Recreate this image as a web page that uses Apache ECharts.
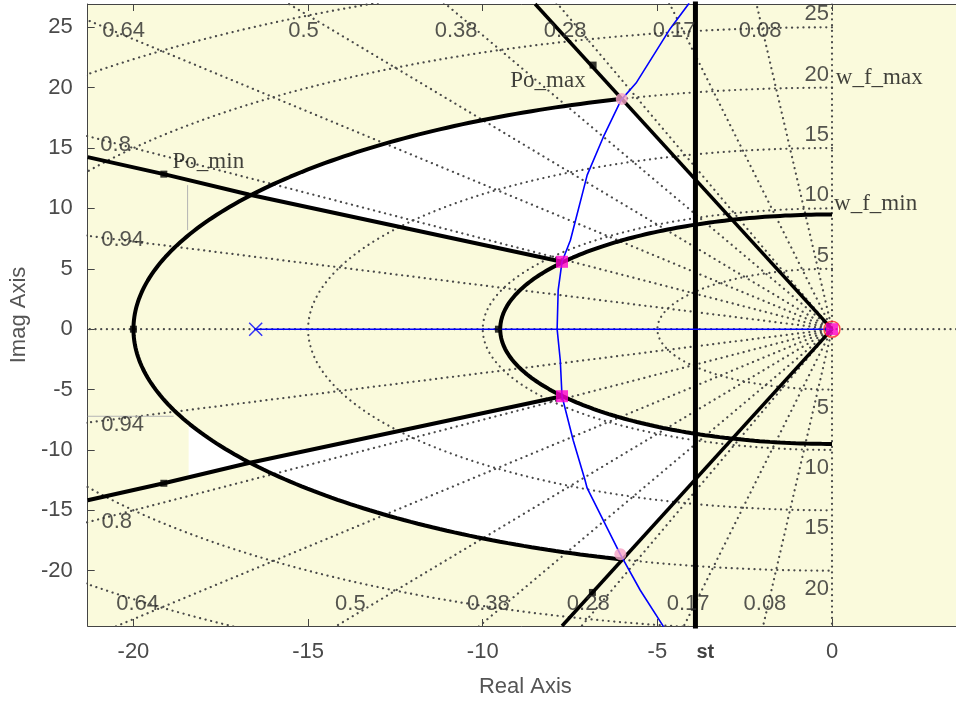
<!DOCTYPE html>
<html><head><meta charset="utf-8">
<script src="https://cdn.jsdelivr.net/npm/echarts@6/dist/echarts.min.js"></script>
<style>html,body{margin:0;padding:0;background:#fff}#c{width:956px;height:704px}</style>
</head><body><div id="c"></div>
<script>
// ---------- axes ----------
const xRange = [-21.31, 3.55];
const yRange = [-24.58, 26.93];
const xTicks = [-20, -15, -10, -5, 0];
const yTicks = [-20, -15, -10, -5, 0, 5, 10, 15, 20, 25];

// ---------- s-plane grid (sgrid) ----------
const zetaValues = [0.08, 0.17, 0.28, 0.38, 0.5, 0.64, 0.8, 0.94];
const wnValues = [5, 10, 15, 20, 25, 30];
const zetaLabels = [
  ["0.64", -20.28, 24.69], ["0.5", -15.13, 24.69], ["0.38", -10.76, 24.69],
  ["0.28", -7.64, 24.69], ["0.17", -4.52, 24.69], ["0.08", -2.06, 24.69],
  ["0.64", -19.88, -22.78], ["0.5", -13.79, -22.78], ["0.38", -9.84, -22.78],
  ["0.28", -6.98, -22.78], ["0.17", -4.12, -22.78], ["0.08", -1.92, -22.78],
  ["0.8", -20.51, 15.24], ["0.94", -20.31, 7.37], ["0.94", -20.31, -7.95], ["0.8", -20.48, -15.99]
];
const wnLabelsUpper = [5, 10, 15, 20, 25];
const wnLabelsLower = [5, 10, 15, 20];

// ---------- design constraints ----------
const wfMaxRadius = 20;
const wfMaxArc = [107.5, 252.5];
const wfMinRadius = 9.5;
const wfMinArc = [90, 270];
const poMaxUpper = [[0, 0], [-8.5, 26.93]];
const poMaxLower = [[0, 0], [-7.73, -24.58]];
const poMinUpper = [[-21.31, 14.25], [-19.13, 12.84], [-16.7, 11.15], [-7.73, 5.58]];
const poMinLower = [[-21.31, -14.17], [-19.13, -12.76], [-16.73, -11.1], [-7.73, -5.55]];
const stValue = -3.91;
const artifactEdgeX = -18.42;
const constraintLabels = [
  ["Po_min", -18.88, 13.84], ["Po_max", -9.21, 20.55],
  ["w_f_max", 0.11, 20.8], ["w_f_min", 0.06, 10.36]
];

// ---------- root locus ----------
const locusBranch = [
  [-4.09, 27.0], [-4.66, 24.77], [-5.61, 20.38], [-6.04, 18.97], [-6.55, 15.9],
  [-7.01, 12.76], [-7.12, 11.52], [-7.49, 7.37], [-7.73, 5.58], [-7.84, 3.23],
  [-7.87, 0], [-7.78, -2.57], [-7.73, -5.55], [-7.41, -9.2], [-7.07, -12.51],
  [-7.01, -13.17], [-6.06, -18.64], [-5.49, -21.62], [-4.81, -24.69]
];
const locusReal = [[-16.5, 0], [0, 0]];
const blueCross = [[-16.5, 0]];
const redPole = [[0, 0]];
const squarePoints = [[-7.73, 5.58], [-7.73, -5.55], [0, 0]];
const circlePoints = [[-6.02, 19.07], [-6.06, -18.64]];
const boundaryMarkers = [[-20, 0], [-9.55, 0], [-19.13, 12.84], [-19.13, -12.76], [-6.84, 21.87], [-6.86, -21.8]];

// ---------- geometry helpers ----------
const rad = d => d * Math.PI / 180;
const ang = p => { let a = Math.atan2(p[1], p[0]) * 180 / Math.PI; if (a < 0) a += 360; return a; };
function arc(r, a0, a1, n) {
  n = n || 120; const out = [];
  for (let i = 0; i <= n; i++) { const a = rad(a0 + (a1 - a0) * i / n); out.push([r * Math.cos(a), r * Math.sin(a)]); }
  return out;
}
const slopeU = poMaxUpper[1][1] / poMaxUpper[1][0];
const slopeL = poMaxLower[1][1] / poMaxLower[1][0];
const dY = Math.sqrt(wfMinRadius * wfMinRadius - stValue * stValue);

// white (admissible) regions
const Au = poMinUpper[2], Eu = poMinUpper[3];
const upperPoly = [].concat(
  arc(wfMaxRadius, ang(Au), wfMaxArc[0]),
  [[stValue, slopeU * stValue], [stValue, dY]],
  arc(wfMinRadius, ang([stValue, dY]), ang(Eu)),
  [Eu]
);
const Al = poMinLower[2], El = poMinLower[3];
const lowerPoly = [].concat(
  arc(wfMaxRadius, ang(Al), wfMaxArc[1]),
  [[stValue, slopeL * stValue], [stValue, -dY]],
  arc(wfMinRadius, ang([stValue, -dY]), ang(El)),
  [El]
);
const yc = -Math.sqrt(wfMaxRadius * wfMaxRadius - artifactEdgeX * artifactEdgeX);
const p1 = poMinLower[1], p2 = poMinLower[2];
const yLine = p1[1] + (artifactEdgeX - p1[0]) * (p2[1] - p1[1]) / (p2[0] - p1[0]);
const triPoly = [].concat(arc(wfMaxRadius, ang([artifactEdgeX, yc]), ang(Al), 40), [[artifactEdgeX, yLine]]);
const whitePolys = [upperPoly, lowerPoly, triPoly];

// ---------- series ----------
const series = [];
series.push({
  type: 'custom', coordinateSystem: 'cartesian2d', z: 1, silent: true,
  data: whitePolys.map((p, i) => [p[0][0], p[0][1], i]),
  encode: { x: 0, y: 1 },
  renderItem: (params, api) => ({
    type: 'polygon',
    shape: { points: whitePolys[params.dataIndex].map(p => api.coord(p)) },
    style: { fill: '#ffffff', stroke: null }
  })
});

const dotStyle = { color: '#4a4a4a', width: 2.2, type: [0.1, 5.6], cap: 'round' };
function dotted(data) {
  series.push({ type: 'line', data, showSymbol: false, silent: true, z: 2, lineStyle: dotStyle, animation: false });
}
zetaValues.forEach(z => {
  const s = Math.sqrt(1 - z * z), R = 80;
  dotted([[0, 0], [-z * R, s * R]]);
  dotted([[0, 0], [-z * R, -s * R]]);
});
dotted([[0, yRange[0] - 5], [0, yRange[1] + 5]]);
dotted([[xRange[0] - 5, 0], [xRange[1] + 5, 0]]);
wnValues.forEach(w => dotted(arc(w, 90, 270, 180)));

// artifact gray lines
const grayLine = { color: '#b4b4b4', width: 1 };
series.push({ type: 'line', data: [[artifactEdgeX - 0.03, 11.93], [artifactEdgeX - 0.03, 8.2]], showSymbol: false, silent: true, z: 2, lineStyle: grayLine });
series.push({ type: 'line', data: [[xRange[0], -7.21], [-18.85, -7.21]], showSymbol: false, silent: true, z: 2, lineStyle: grayLine });

function thick(data, w) {
  series.push({ type: 'line', data, showSymbol: false, silent: true, z: 3, lineStyle: { color: '#000', width: w || 4 }, animation: false });
}
thick(arc(wfMaxRadius, wfMaxArc[0], wfMaxArc[1], 200));
thick(arc(wfMinRadius, wfMinArc[0], wfMinArc[1], 200));
thick(poMaxUpper, 3.5);
thick(poMaxLower, 3.5);
thick(poMinUpper);
thick(poMinLower);
thick([[stValue, yRange[0] - 5], [stValue, yRange[1] + 5]], 5);

// root locus
series.push({ type: 'line', data: locusBranch, showSymbol: false, z: 4, lineStyle: { color: '#0000ff', width: 1.6 }, animation: false });
series.push({ type: 'line', data: locusReal, showSymbol: false, z: 4, lineStyle: { color: '#0000ff', width: 1.6 }, animation: false });

series.push({ type: 'scatter', data: boundaryMarkers, symbol: 'rect', symbolSize: [7, 7], z: 5, itemStyle: { color: '#000' } });
series.push({ type: 'scatter', data: blueCross, symbol: 'path://M0,0L10,10M10,0L0,10', symbolSize: 13, z: 5,
  itemStyle: { color: 'none', borderColor: '#0000ff', borderWidth: 1.5 } });
series.push({ type: 'scatter', data: redPole, symbol: 'circle', symbolSize: 16, z: 5,
  itemStyle: { color: 'none', borderColor: '#ff2020', borderWidth: 1.5 } });
series.push({ type: 'scatter', data: squarePoints, symbol: 'rect', symbolSize: 12, z: 6, itemStyle: { color: '#ff00cc' } });
series.push({ type: 'scatter', data: circlePoints, symbol: 'circle', symbolSize: 12, z: 6, itemStyle: { color: '#f6a3c6' } });

// text labels
function textSeries(items, label) {
  series.push({
    type: 'scatter', symbolSize: 1, itemStyle: { color: 'rgba(0,0,0,0)' }, z: 7, silent: true, clip: false,
    data: items.map(t => ({ name: t[0], value: [t[1], t[2]] })),
    label: Object.assign({ show: true, formatter: '{b}', position: 'inside' }, label)
  });
}
const gridFont = { color: '#2a2a2a', fontSize: 22, fontFamily: 'Liberation Sans, Arial, sans-serif', align: 'center', verticalAlign: 'middle' };
textSeries(zetaLabels, gridFont);
textSeries(wnLabelsUpper.map(w => [String(w), 0, w]), Object.assign({}, gridFont, { align: 'right', offset: [-3, -13] }));
textSeries(wnLabelsLower.map(w => [String(w), 0, -w]), Object.assign({}, gridFont, { align: 'right', offset: [-3, 18] }));
textSeries(constraintLabels, { color: '#111', fontSize: 23, fontFamily: 'Liberation Serif, Times New Roman, serif', align: 'left', verticalAlign: 'middle' });
textSeries([["st", stValue, yRange[0]]], { color: '#111', fontSize: 20, fontWeight: 'bold', fontFamily: 'Liberation Sans, Arial, sans-serif', align: 'left', verticalAlign: 'middle', offset: [1, 26] });

const axisFont = { color: '#4a4a4a', fontSize: 22, fontFamily: 'Liberation Sans, Arial, sans-serif' };
const option = {
  animation: false,
  backgroundColor: '#ffffff',
  grid: { left: 87, top: 4, right: 0, height: 622, show: true, backgroundColor: '#fafadc', borderWidth: 0 },
  xAxis: [{
    type: 'value', min: xRange[0], max: xRange[1], position: 'bottom',
    name: 'Real Axis', nameLocation: 'middle', nameGap: 50,
    nameTextStyle: Object.assign({}, axisFont, { color: '#555', padding: [0, 0, 0, 7] }),
    axisLine: { show: true, onZero: false, lineStyle: { color: '#444', width: 1 } },
    axisTick: { show: true, inside: true, length: 7, customValues: xTicks, lineStyle: { color: '#444' } },
    axisLabel: Object.assign({ margin: 15, customValues: xTicks }, axisFont),
    splitLine: { show: false }
  }, {
    type: 'value', min: xRange[0], max: xRange[1], position: 'top',
    axisLine: { show: true, onZero: false, lineStyle: { color: '#444', width: 1 } },
    axisTick: { show: true, inside: true, length: 7, customValues: xTicks, lineStyle: { color: '#444' } },
    axisLabel: { show: false }, splitLine: { show: false }
  }],
  yAxis: [{
    type: 'value', min: yRange[0], max: yRange[1], position: 'left',
    name: 'Imag Axis', nameLocation: 'middle', nameGap: 55, nameRotate: 90, nameTextStyle: Object.assign({}, axisFont, { color: '#555' }),
    axisLine: { show: true, onZero: false, lineStyle: { color: '#444', width: 1 } },
    axisTick: { show: true, inside: true, length: 7, customValues: yTicks, lineStyle: { color: '#444' } },
    axisLabel: Object.assign({ margin: 15, customValues: yTicks }, axisFont),
    splitLine: { show: false }
  }],
  series: series
};
const chart = echarts.init(document.getElementById('c'), null, { renderer: 'canvas' });
chart.setOption(option);
</script></body></html>
